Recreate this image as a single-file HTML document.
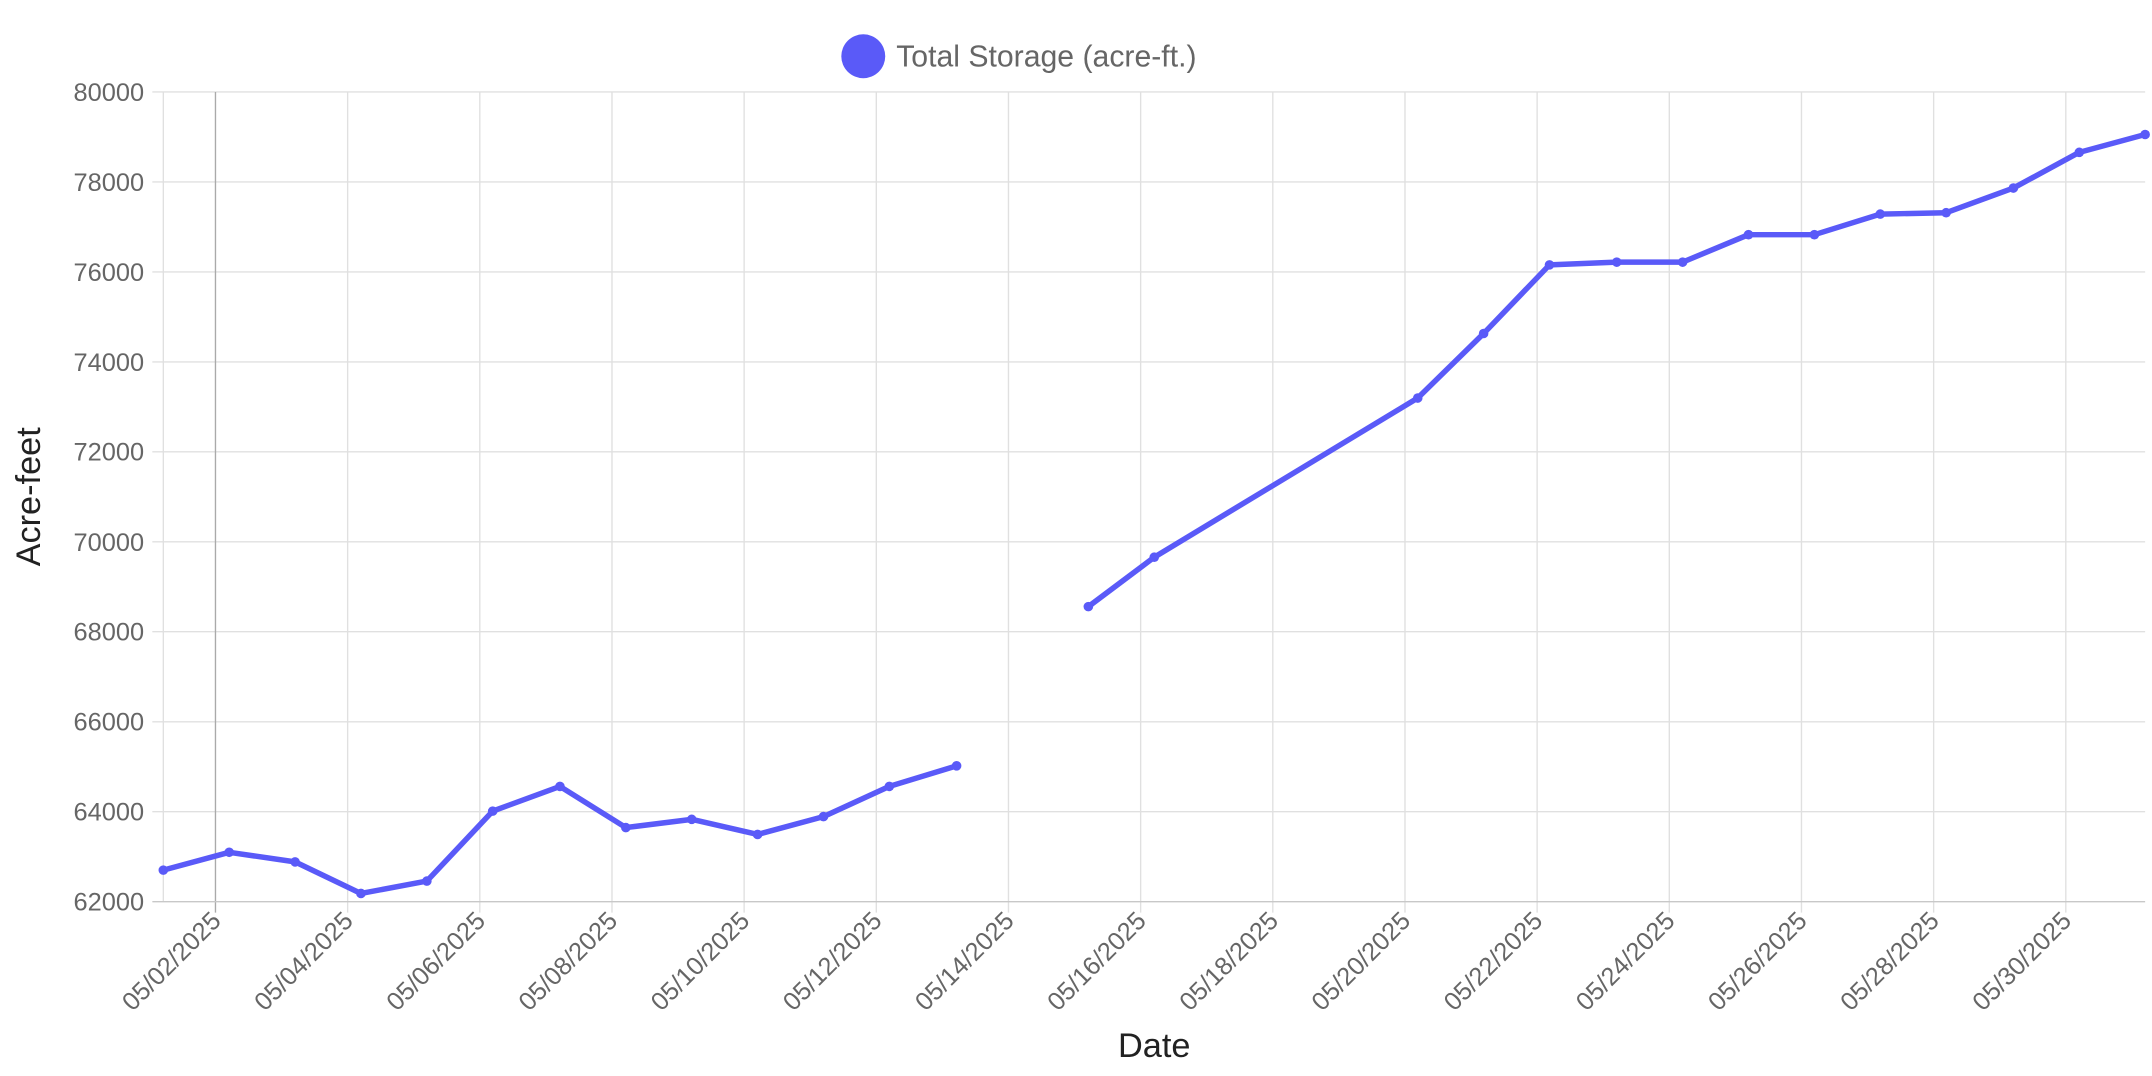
<!DOCTYPE html>
<html><head><meta charset="utf-8"><style>
html,body{margin:0;padding:0;background:#fff;}
svg{display:block;}
text{font-family:"Liberation Sans",Arial,sans-serif;fill:#666;}
</style></head><body>
<svg width="2152" height="1076" viewBox="0 0 1568 784" preserveAspectRatio="none" xmlns="http://www.w3.org/2000/svg">
<g stroke="#e0e0e0" stroke-width="1">
<line x1="111" y1="67" x2="1563" y2="67"/>
<line x1="111" y1="132.6" x2="1563" y2="132.6"/>
<line x1="111" y1="198.1" x2="1563" y2="198.1"/>
<line x1="111" y1="263.7" x2="1563" y2="263.7"/>
<line x1="111" y1="329.2" x2="1563" y2="329.2"/>
<line x1="111" y1="394.8" x2="1563" y2="394.8"/>
<line x1="111" y1="460.3" x2="1563" y2="460.3"/>
<line x1="111" y1="525.9" x2="1563" y2="525.9"/>
<line x1="111" y1="591.4" x2="1563" y2="591.4"/>
<line x1="119" y1="67" x2="119" y2="657"/>
<line x1="253.3" y1="67" x2="253.3" y2="665"/>
<line x1="349.6" y1="67" x2="349.6" y2="665"/>
<line x1="445.9" y1="67" x2="445.9" y2="665"/>
<line x1="542.2" y1="67" x2="542.2" y2="665"/>
<line x1="638.5" y1="67" x2="638.5" y2="665"/>
<line x1="734.8" y1="67" x2="734.8" y2="665"/>
<line x1="831.1" y1="67" x2="831.1" y2="665"/>
<line x1="927.4" y1="67" x2="927.4" y2="665"/>
<line x1="1023.7" y1="67" x2="1023.7" y2="665"/>
<line x1="1120" y1="67" x2="1120" y2="665"/>
<line x1="1216.3" y1="67" x2="1216.3" y2="665"/>
<line x1="1312.6" y1="67" x2="1312.6" y2="665"/>
<line x1="1408.9" y1="67" x2="1408.9" y2="665"/>
<line x1="1505.2" y1="67" x2="1505.2" y2="665"/>
</g>
<line x1="157" y1="67" x2="157" y2="665" stroke="#aaa" stroke-width="1"/>
<line x1="111" y1="657" x2="1563" y2="657" stroke="#c8c8c8" stroke-width="1"/>
<g font-size="18.5" text-anchor="end">
<text x="105" y="73.5">80000</text>
<text x="105" y="139.1">78000</text>
<text x="105" y="204.6">76000</text>
<text x="105" y="270.2">74000</text>
<text x="105" y="335.7">72000</text>
<text x="105" y="401.3">70000</text>
<text x="105" y="466.8">68000</text>
<text x="105" y="532.4">66000</text>
<text x="105" y="597.9">64000</text>
<text x="105" y="663.5">62000</text>
</g>
<g font-size="18.5" text-anchor="end">
<text transform="translate(162,672) rotate(-45)">05/02/2025</text>
<text transform="translate(258.3,672) rotate(-45)">05/04/2025</text>
<text transform="translate(354.6,672) rotate(-45)">05/06/2025</text>
<text transform="translate(450.9,672) rotate(-45)">05/08/2025</text>
<text transform="translate(547.2,672) rotate(-45)">05/10/2025</text>
<text transform="translate(643.5,672) rotate(-45)">05/12/2025</text>
<text transform="translate(739.8,672) rotate(-45)">05/14/2025</text>
<text transform="translate(836.1,672) rotate(-45)">05/16/2025</text>
<text transform="translate(932.4,672) rotate(-45)">05/18/2025</text>
<text transform="translate(1028.7,672) rotate(-45)">05/20/2025</text>
<text transform="translate(1125,672) rotate(-45)">05/22/2025</text>
<text transform="translate(1221.3,672) rotate(-45)">05/24/2025</text>
<text transform="translate(1317.6,672) rotate(-45)">05/26/2025</text>
<text transform="translate(1413.9,672) rotate(-45)">05/28/2025</text>
<text transform="translate(1510.2,672) rotate(-45)">05/30/2025</text>
</g>
<text x="841" y="770" font-size="25" text-anchor="middle" style="fill:#222">Date</text>
<text transform="translate(29,362) rotate(-90)" font-size="25" text-anchor="middle" style="fill:#222">Acre-feet</text>
<circle cx="629" cy="41" r="16" fill="#5a5af8"/>
<text x="653" y="48.5" font-size="22">Total Storage (acre-ft.)</text>
<g fill="none" stroke="#5a5af8" stroke-width="4" stroke-linejoin="round">
<polyline points="119,634 167,621 215,628 263,651 311,642 359,591 408,573 456,603 504,597 552,608 600,595 648,573 697,558"/>
<polyline points="793,442 841,406 1033,290 1081,243 1129,193 1178,191 1226,191 1274,171 1322,171 1370,156 1418,155 1467,137 1515,111 1563,98"/>
</g>
<g fill="#5a5af8">
<circle cx="119" cy="634" r="3.5"/><circle cx="167" cy="621" r="3.5"/><circle cx="215" cy="628" r="3.5"/><circle cx="263" cy="651" r="3.5"/><circle cx="311" cy="642" r="3.5"/><circle cx="359" cy="591" r="3.5"/><circle cx="408" cy="573" r="3.5"/><circle cx="456" cy="603" r="3.5"/><circle cx="504" cy="597" r="3.5"/><circle cx="552" cy="608" r="3.5"/><circle cx="600" cy="595" r="3.5"/><circle cx="648" cy="573" r="3.5"/><circle cx="697" cy="558" r="3.5"/>
<circle cx="793" cy="442" r="3.5"/><circle cx="841" cy="406" r="3.5"/><circle cx="1033" cy="290" r="3.5"/><circle cx="1081" cy="243" r="3.5"/><circle cx="1129" cy="193" r="3.5"/><circle cx="1178" cy="191" r="3.5"/><circle cx="1226" cy="191" r="3.5"/><circle cx="1274" cy="171" r="3.5"/><circle cx="1322" cy="171" r="3.5"/><circle cx="1370" cy="156" r="3.5"/><circle cx="1418" cy="155" r="3.5"/><circle cx="1467" cy="137" r="3.5"/><circle cx="1515" cy="111" r="3.5"/><circle cx="1563" cy="98" r="3.5"/>
</g>
</svg>
</body></html>
